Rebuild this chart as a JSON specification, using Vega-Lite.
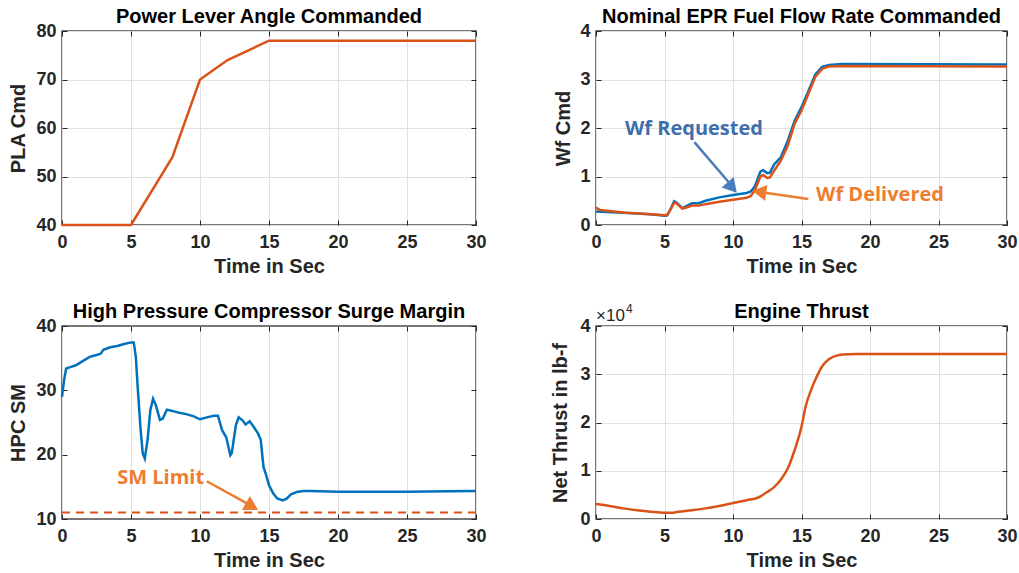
{
  "$schema": "https://vega.github.io/schema/vega-lite/v6.json",
  "background": "white",
  "padding": {"left": 7, "top": 6, "right": 0, "bottom": 0},
  "columns": 2,
  "spacing": {"column": 120, "row": 101},
  "bounds": "flush",
  "align": "each",
  "config": {
    "view": {"stroke": "#4a4a4a", "strokeWidth": 1.5},
    "title": {"font": "Liberation Sans", "fontSize": 20, "fontWeight": "bold", "color": "#000000", "offset": -5, "baseline": "alphabetic", "anchor": "middle", "frame": "group"},
    "axis": {
      "labelFont": "Liberation Sans", "labelFontSize": 18, "labelFontWeight": "bold", "labelColor": "#262626",
      "titleFont": "Liberation Sans", "titleFontSize": 20, "titleFontWeight": "bold", "titleColor": "#262626",
      "gridColor": "#e1e1e1", "gridWidth": 1, "domain": false,
      "tickColor": "#262626", "tickSize": -5, "tickWidth": 1, "labelFlush": false, "labelOverlap": false
    },
    "axisBottom": {"labelPadding": 22, "labelBaseline": "middle", "titleY": 41, "titleBaseline": "middle"},
    "axisLeft": {"labelPadding": 11, "labelBaseline": "middle", "titleBaseline": "middle"},
    "text": {"font": "Open Sans", "fontWeight": "bold", "fontSize": 20}
  },
  "datasets": {
    "pla": [
      {"t": 0, "pla": 40}, {"t": 5, "pla": 40}, {"t": 8, "pla": 54}, {"t": 10, "pla": 70},
      {"t": 12, "pla": 74}, {"t": 15, "pla": 78}, {"t": 30, "pla": 78}
    ],
    "wf": [
      {"t": 0, "wf": 0.28, "series": "Wf Requested"}, {"t": 2, "wf": 0.25, "series": "Wf Requested"},
      {"t": 4, "wf": 0.22, "series": "Wf Requested"}, {"t": 5, "wf": 0.19, "series": "Wf Requested"},
      {"t": 5.2, "wf": 0.2, "series": "Wf Requested"}, {"t": 5.5, "wf": 0.36, "series": "Wf Requested"},
      {"t": 5.7, "wf": 0.49, "series": "Wf Requested"}, {"t": 5.9, "wf": 0.46, "series": "Wf Requested"},
      {"t": 6.3, "wf": 0.35, "series": "Wf Requested"}, {"t": 6.6, "wf": 0.39, "series": "Wf Requested"},
      {"t": 7, "wf": 0.45, "series": "Wf Requested"}, {"t": 7.5, "wf": 0.45, "series": "Wf Requested"},
      {"t": 8, "wf": 0.5, "series": "Wf Requested"}, {"t": 9, "wf": 0.57, "series": "Wf Requested"},
      {"t": 10, "wf": 0.62, "series": "Wf Requested"}, {"t": 11, "wf": 0.66, "series": "Wf Requested"},
      {"t": 11.3, "wf": 0.69, "series": "Wf Requested"}, {"t": 11.6, "wf": 0.8, "series": "Wf Requested"},
      {"t": 12, "wf": 1.1, "series": "Wf Requested"}, {"t": 12.2, "wf": 1.13, "series": "Wf Requested"},
      {"t": 12.5, "wf": 1.07, "series": "Wf Requested"}, {"t": 12.7, "wf": 1.08, "series": "Wf Requested"},
      {"t": 13, "wf": 1.25, "series": "Wf Requested"}, {"t": 13.5, "wf": 1.4, "series": "Wf Requested"},
      {"t": 14, "wf": 1.74, "series": "Wf Requested"}, {"t": 14.5, "wf": 2.15, "series": "Wf Requested"},
      {"t": 15, "wf": 2.43, "series": "Wf Requested"}, {"t": 15.5, "wf": 2.76, "series": "Wf Requested"},
      {"t": 16, "wf": 3.1, "series": "Wf Requested"}, {"t": 16.5, "wf": 3.26, "series": "Wf Requested"},
      {"t": 17, "wf": 3.3, "series": "Wf Requested"}, {"t": 18, "wf": 3.32, "series": "Wf Requested"},
      {"t": 30, "wf": 3.31, "series": "Wf Requested"},
      {"t": 0, "wf": 0.36, "series": "Wf Delivered"}, {"t": 0.3, "wf": 0.31, "series": "Wf Delivered"},
      {"t": 2, "wf": 0.26, "series": "Wf Delivered"}, {"t": 4, "wf": 0.22, "series": "Wf Delivered"},
      {"t": 5, "wf": 0.2, "series": "Wf Delivered"}, {"t": 5.2, "wf": 0.21, "series": "Wf Delivered"},
      {"t": 5.5, "wf": 0.35, "series": "Wf Delivered"}, {"t": 5.7, "wf": 0.46, "series": "Wf Delivered"},
      {"t": 5.9, "wf": 0.44, "series": "Wf Delivered"}, {"t": 6.3, "wf": 0.34, "series": "Wf Delivered"},
      {"t": 6.6, "wf": 0.36, "series": "Wf Delivered"}, {"t": 7, "wf": 0.4, "series": "Wf Delivered"},
      {"t": 7.5, "wf": 0.4, "series": "Wf Delivered"}, {"t": 8, "wf": 0.43, "series": "Wf Delivered"},
      {"t": 9, "wf": 0.48, "series": "Wf Delivered"}, {"t": 10, "wf": 0.52, "series": "Wf Delivered"},
      {"t": 11, "wf": 0.56, "series": "Wf Delivered"}, {"t": 11.3, "wf": 0.6, "series": "Wf Delivered"},
      {"t": 11.6, "wf": 0.72, "series": "Wf Delivered"}, {"t": 12, "wf": 1.0, "series": "Wf Delivered"},
      {"t": 12.2, "wf": 1.03, "series": "Wf Delivered"}, {"t": 12.5, "wf": 0.97, "series": "Wf Delivered"},
      {"t": 12.7, "wf": 0.98, "series": "Wf Delivered"}, {"t": 13, "wf": 1.12, "series": "Wf Delivered"},
      {"t": 13.5, "wf": 1.33, "series": "Wf Delivered"}, {"t": 14, "wf": 1.64, "series": "Wf Delivered"},
      {"t": 14.5, "wf": 2.09, "series": "Wf Delivered"}, {"t": 15, "wf": 2.36, "series": "Wf Delivered"},
      {"t": 15.5, "wf": 2.7, "series": "Wf Delivered"}, {"t": 16, "wf": 3.05, "series": "Wf Delivered"},
      {"t": 16.5, "wf": 3.22, "series": "Wf Delivered"}, {"t": 17, "wf": 3.27, "series": "Wf Delivered"},
      {"t": 18, "wf": 3.28, "series": "Wf Delivered"}, {"t": 30, "wf": 3.27, "series": "Wf Delivered"}
    ],
    "sm": [
      {"t": 0, "sm": 29.0}, {"t": 0.15, "sm": 31.6}, {"t": 0.3, "sm": 33.4}, {"t": 0.6, "sm": 33.6},
      {"t": 1, "sm": 33.9}, {"t": 1.5, "sm": 34.55}, {"t": 2, "sm": 35.2}, {"t": 2.5, "sm": 35.5},
      {"t": 2.8, "sm": 35.7}, {"t": 3, "sm": 36.3}, {"t": 3.5, "sm": 36.7}, {"t": 4, "sm": 36.9},
      {"t": 4.5, "sm": 37.2}, {"t": 5, "sm": 37.45}, {"t": 5.2, "sm": 37.45}, {"t": 5.35, "sm": 35.2},
      {"t": 5.5, "sm": 30.0}, {"t": 5.7, "sm": 23.8}, {"t": 5.85, "sm": 20.2}, {"t": 6.0, "sm": 19.4},
      {"t": 6.2, "sm": 22.3}, {"t": 6.4, "sm": 26.9}, {"t": 6.6, "sm": 28.7}, {"t": 6.8, "sm": 27.7},
      {"t": 7.1, "sm": 25.4}, {"t": 7.3, "sm": 25.6}, {"t": 7.6, "sm": 27.0}, {"t": 8, "sm": 26.8},
      {"t": 8.5, "sm": 26.5}, {"t": 9, "sm": 26.3}, {"t": 9.5, "sm": 26.0}, {"t": 10, "sm": 25.5},
      {"t": 10.5, "sm": 25.8}, {"t": 11, "sm": 26.05}, {"t": 11.3, "sm": 26.05}, {"t": 11.6, "sm": 23.8},
      {"t": 11.9, "sm": 22.7}, {"t": 12.2, "sm": 19.9}, {"t": 12.3, "sm": 20.2}, {"t": 12.6, "sm": 24.6},
      {"t": 12.8, "sm": 25.8}, {"t": 13.1, "sm": 25.3}, {"t": 13.3, "sm": 24.7}, {"t": 13.6, "sm": 25.2},
      {"t": 13.9, "sm": 24.3}, {"t": 14.2, "sm": 23.3}, {"t": 14.4, "sm": 22.3}, {"t": 14.6, "sm": 18.1},
      {"t": 14.8, "sm": 16.8}, {"t": 15.0, "sm": 15.25}, {"t": 15.3, "sm": 14.0}, {"t": 15.6, "sm": 13.2},
      {"t": 16, "sm": 12.9}, {"t": 16.3, "sm": 13.2}, {"t": 16.6, "sm": 13.85}, {"t": 17, "sm": 14.2},
      {"t": 17.5, "sm": 14.35}, {"t": 18, "sm": 14.35}, {"t": 20, "sm": 14.25}, {"t": 25, "sm": 14.25},
      {"t": 28, "sm": 14.3}, {"t": 30, "sm": 14.35}
    ],
    "thrust": [
      {"t": 0, "thrust": 3100}, {"t": 1, "thrust": 2700}, {"t": 2, "thrust": 2200}, {"t": 3, "thrust": 1800},
      {"t": 4, "thrust": 1500}, {"t": 5, "thrust": 1300}, {"t": 5.5, "thrust": 1300}, {"t": 6, "thrust": 1500},
      {"t": 7, "thrust": 1800}, {"t": 8, "thrust": 2200}, {"t": 9, "thrust": 2700}, {"t": 10, "thrust": 3300},
      {"t": 11, "thrust": 3900}, {"t": 11.8, "thrust": 4400}, {"t": 12.5, "thrust": 5600}, {"t": 13, "thrust": 6600},
      {"t": 13.5, "thrust": 8200}, {"t": 14, "thrust": 10500}, {"t": 14.5, "thrust": 14300}, {"t": 15, "thrust": 19100},
      {"t": 15.3, "thrust": 23300}, {"t": 15.6, "thrust": 26000}, {"t": 16, "thrust": 28800}, {"t": 16.5, "thrust": 31600},
      {"t": 17, "thrust": 33100}, {"t": 17.5, "thrust": 33800}, {"t": 18, "thrust": 34100}, {"t": 19, "thrust": 34200},
      {"t": 30, "thrust": 34200}
    ]
  },
  "concat": [
    {
      "title": "Power Lever Angle Commanded",
      "width": 414, "height": 194,
      "data": {"name": "pla"},
      "resolve": {"axis": {"x": "independent", "y": "independent"}},
      "layer": [
        {
          "mark": {"type": "line", "color": "#D95319", "strokeWidth": 2.5},
          "encoding": {
            "x": {"field": "t", "type": "quantitative", "scale": {"domain": [0, 30], "nice": false},
                  "axis": {"values": [0, 5, 10, 15, 20, 25, 30], "title": "Time in Sec"}},
            "y": {"field": "pla", "type": "quantitative", "scale": {"domain": [40, 80], "nice": false, "zero": false},
                  "axis": {"values": [40, 50, 60, 70, 80], "title": "PLA Cmd", "titleX": -44}}
          }
        },
        {
          "mark": {"type": "line", "strokeOpacity": 0},
          "encoding": {
            "x": {"field": "t", "type": "quantitative", "axis": {"orient": "top", "values": [0, 5, 10, 15, 20, 25, 30], "labels": false, "grid": false, "title": null}},
            "y": {"field": "pla", "type": "quantitative", "axis": {"orient": "right", "values": [40, 50, 60, 70, 80], "labels": false, "grid": false, "title": null}}
          }
        }
      ]
    },
    {
      "title": "Nominal EPR Fuel Flow Rate Commanded",
      "width": 411, "height": 194,
      "resolve": {"axis": {"x": "independent", "y": "independent"}},
      "layer": [
        {
          "data": {"name": "wf"},
          "mark": {"type": "line", "strokeWidth": 2.5},
          "encoding": {
            "x": {"field": "t", "type": "quantitative", "scale": {"domain": [0, 30], "nice": false},
                  "axis": {"values": [0, 5, 10, 15, 20, 25, 30], "title": "Time in Sec"}},
            "y": {"field": "wf", "type": "quantitative", "scale": {"domain": [0, 4], "nice": false},
                  "axis": {"values": [0, 1, 2, 3, 4], "title": "Wf Cmd", "titleX": -33}},
            "color": {"field": "series", "type": "nominal",
                      "scale": {"domain": ["Wf Requested", "Wf Delivered"], "range": ["#0072BD", "#D95319"]},
                      "legend": null}
          }
        },
        {
          "data": {"name": "wf"},
          "mark": {"type": "line", "strokeOpacity": 0},
          "encoding": {
            "x": {"field": "t", "type": "quantitative", "axis": {"orient": "top", "values": [0, 5, 10, 15, 20, 25, 30], "labels": false, "grid": false, "title": null}},
            "y": {"field": "wf", "type": "quantitative", "axis": {"orient": "right", "values": [0, 1, 2, 3, 4], "labels": false, "grid": false, "title": null}}
          }
        },
        {
          "data": {"values": [{"t": 7.18, "wf": 1.71, "t2": 9.75, "wf2": 0.86}]},
          "mark": {"type": "rule", "color": "#4A7EBB", "strokeWidth": 2.5},
          "encoding": {
            "x": {"field": "t", "type": "quantitative", "axis": null},
            "y": {"field": "wf", "type": "quantitative", "axis": null},
            "x2": {"field": "t2"}, "y2": {"field": "wf2"}
          }
        },
        {
          "data": {"values": [{"t": 9.83, "wf": 0.81}]},
          "mark": {"type": "point", "shape": "triangle", "filled": true, "color": "#4A7EBB", "size": 260, "angle": 139, "opacity": 1},
          "encoding": {
            "x": {"field": "t", "type": "quantitative", "axis": null},
            "y": {"field": "wf", "type": "quantitative", "axis": null}
          }
        },
        {
          "data": {"values": [{"t": 7.15, "wf": 1.97, "label": "Wf Requested"}]},
          "mark": {"type": "text", "color": "#3F6FAA", "align": "center", "baseline": "middle"},
          "encoding": {
            "x": {"field": "t", "type": "quantitative", "axis": null},
            "y": {"field": "wf", "type": "quantitative", "axis": null},
            "text": {"field": "label"}
          }
        },
        {
          "data": {"values": [{"t": 15.5, "wf": 0.537, "t2": 12.2, "wf2": 0.67}]},
          "mark": {"type": "rule", "color": "#ED7D31", "strokeWidth": 2.5},
          "encoding": {
            "x": {"field": "t", "type": "quantitative", "axis": null},
            "y": {"field": "wf", "type": "quantitative", "axis": null},
            "x2": {"field": "t2"}, "y2": {"field": "wf2"}
          }
        },
        {
          "data": {"values": [{"t": 12.09, "wf": 0.674}]},
          "mark": {"type": "point", "shape": "triangle", "filled": true, "color": "#ED7D31", "size": 260, "angle": 278, "opacity": 1},
          "encoding": {
            "x": {"field": "t", "type": "quantitative", "axis": null},
            "y": {"field": "wf", "type": "quantitative", "axis": null}
          }
        },
        {
          "data": {"values": [{"t": 20.73, "wf": 0.626, "label": "Wf Delivered"}]},
          "mark": {"type": "text", "color": "#ED7D31", "align": "center", "baseline": "middle"},
          "encoding": {
            "x": {"field": "t", "type": "quantitative", "axis": null},
            "y": {"field": "wf", "type": "quantitative", "axis": null},
            "text": {"field": "label"}
          }
        }
      ]
    },
    {
      "title": "High Pressure Compressor Surge Margin",
      "width": 414, "height": 193,
      "resolve": {"axis": {"x": "independent", "y": "independent"}},
      "layer": [
        {
          "data": {"values": [{"sm": 11}]},
          "mark": {"type": "rule", "color": "#D95319", "strokeWidth": 2, "strokeDash": [8, 6]},
          "encoding": {
            "y": {"field": "sm", "type": "quantitative", "axis": null}
          }
        },
        {
          "data": {"name": "sm"},
          "mark": {"type": "line", "color": "#0072BD", "strokeWidth": 2.5},
          "encoding": {
            "x": {"field": "t", "type": "quantitative", "scale": {"domain": [0, 30], "nice": false},
                  "axis": {"values": [0, 5, 10, 15, 20, 25, 30], "title": "Time in Sec"}},
            "y": {"field": "sm", "type": "quantitative", "scale": {"domain": [10, 40], "nice": false, "zero": false},
                  "axis": {"values": [10, 20, 30, 40], "title": "HPC SM", "titleX": -44}}
          }
        },
        {
          "data": {"name": "sm"},
          "mark": {"type": "line", "strokeOpacity": 0},
          "encoding": {
            "x": {"field": "t", "type": "quantitative", "axis": {"orient": "top", "values": [0, 5, 10, 15, 20, 25, 30], "labels": false, "grid": false, "title": null}},
            "y": {"field": "sm", "type": "quantitative", "axis": {"orient": "right", "values": [10, 20, 30, 40], "labels": false, "grid": false, "title": null}}
          }
        },
        {
          "data": {"values": [{"t": 10.49, "sm": 15.87, "t2": 13.5, "sm2": 12.3}]},
          "mark": {"type": "rule", "color": "#ED7D31", "strokeWidth": 2.5},
          "encoding": {
            "x": {"field": "t", "type": "quantitative", "axis": null},
            "y": {"field": "sm", "type": "quantitative", "axis": null},
            "x2": {"field": "t2"}, "y2": {"field": "sm2"}
          }
        },
        {
          "data": {"values": [{"t": 13.62, "sm": 12.13}]},
          "mark": {"type": "point", "shape": "triangle", "filled": true, "color": "#ED7D31", "size": 260, "angle": 120, "opacity": 1},
          "encoding": {
            "x": {"field": "t", "type": "quantitative", "axis": null},
            "y": {"field": "sm", "type": "quantitative", "axis": null}
          }
        },
        {
          "data": {"values": [{"t": 7.15, "sm": 16.39, "label": "SM Limit"}]},
          "mark": {"type": "text", "color": "#ED7D31", "align": "center", "baseline": "middle"},
          "encoding": {
            "x": {"field": "t", "type": "quantitative", "axis": null},
            "y": {"field": "sm", "type": "quantitative", "axis": null},
            "text": {"field": "label"}
          }
        }
      ]
    },
    {
      "title": {"text": "Engine Thrust", "offset": -19},
      "width": 411, "height": 193,
      "resolve": {"axis": {"x": "independent", "y": "independent"}},
      "layer": [
        {
          "data": {"name": "thrust"},
          "mark": {"type": "line", "color": "#D95319", "strokeWidth": 2.5, "interpolate": "monotone"},
          "encoding": {
            "x": {"field": "t", "type": "quantitative", "scale": {"domain": [0, 30], "nice": false},
                  "axis": {"values": [0, 5, 10, 15, 20, 25, 30], "title": "Time in Sec"}},
            "y": {"field": "thrust", "type": "quantitative", "scale": {"domain": [0, 40000], "nice": false},
                  "axis": {"values": [0, 10000, 20000, 30000, 40000], "labelExpr": "datum.value / 10000", "title": "Net Thrust in lb-f", "titleX": -36}}
          }
        },
        {
          "data": {"name": "thrust"},
          "mark": {"type": "line", "strokeOpacity": 0},
          "encoding": {
            "x": {"field": "t", "type": "quantitative", "axis": {"orient": "top", "values": [0, 5, 10, 15, 20, 25, 30], "labels": false, "grid": false, "title": null}},
            "y": {"field": "thrust", "type": "quantitative", "axis": {"orient": "right", "values": [0, 10000, 20000, 30000, 40000], "labels": false, "grid": false, "title": null}}
          }
        },
        {
          "data": {"values": [{"t": 0, "thrust": 40000, "label": "×10"}]},
          "mark": {"type": "text", "font": "Liberation Sans", "fontWeight": "normal", "fontSize": 17, "color": "#262626", "align": "left", "baseline": "alphabetic", "dx": 0, "dy": -5},
          "encoding": {
            "x": {"field": "t", "type": "quantitative", "axis": null},
            "y": {"field": "thrust", "type": "quantitative", "axis": null},
            "text": {"field": "label"}
          }
        },
        {
          "data": {"values": [{"t": 0, "thrust": 40000, "label": "4"}]},
          "mark": {"type": "text", "font": "Liberation Sans", "fontWeight": "normal", "fontSize": 12, "color": "#262626", "align": "left", "baseline": "alphabetic", "dx": 30, "dy": -13},
          "encoding": {
            "x": {"field": "t", "type": "quantitative", "axis": null},
            "y": {"field": "thrust", "type": "quantitative", "axis": null},
            "text": {"field": "label"}
          }
        }
      ]
    }
  ]
}
